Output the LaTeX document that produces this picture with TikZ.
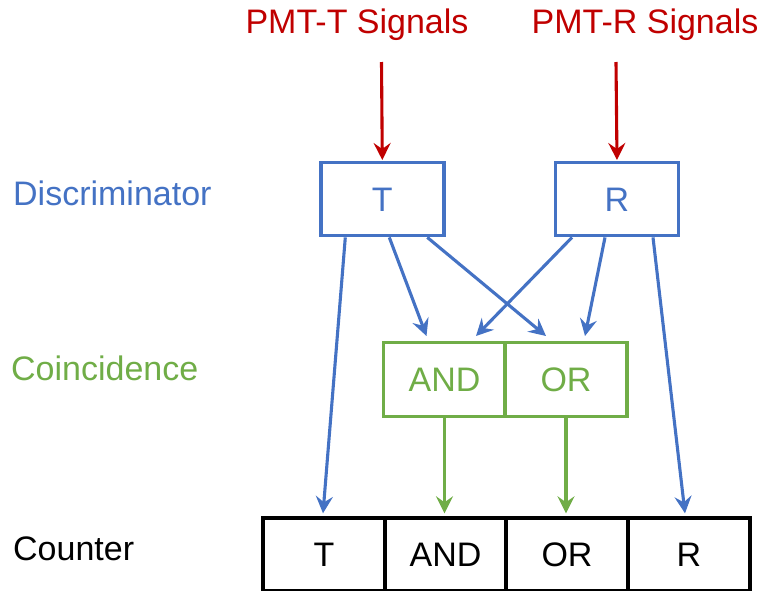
\documentclass[tikz,border=0pt]{standalone}
\usepackage{fontspec}
\setmainfont{Liberation Sans}
\usetikzlibrary{arrows.meta,calc}
\definecolor{sigred}{HTML}{C00000}
\definecolor{discblue}{HTML}{4472C4}
\definecolor{coingreen}{HTML}{70AD47}
\tikzset{
  txt/.style={font=\fontsize{34}{40}\selectfont, inner sep=0pt,
              text height=24.3pt, text depth=0pt},
  cell/.style={txt, draw, line width=3.4pt, minimum width=122pt,
               minimum height=73pt, anchor=center},
  discbox/.style={cell, draw=discblue, text=discblue, minimum width=123pt},
  coinbox/.style={cell, draw=coingreen, text=coingreen, minimum height=74pt},
  cntbox/.style={cell, draw=black, text=black},
  tip/.style={-{Stealth[length=17pt,width=17pt,inset=6pt]}, line width=3.1pt},
  redarrow/.style={tip, draw=sigred},
  bluearrow/.style={tip, draw=discblue},
  greenarrow/.style={tip, draw=coingreen},
}
\begin{document}
\begin{tikzpicture}[x=1pt,y=-1pt]
\useasboundingbox (0,0) rectangle (761,590);
\clip (0,0) rectangle (761,590);

% input signals
\node[txt, text=sigred] (sigT) at (357,21.5) {PMT-T Signals};
\node[txt, text=sigred] (sigR) at (645,21.5) {PMT-R Signals};
\coordinate (inT) at (381.5,62);
\coordinate (inR) at (616,62);

% row labels
\node[txt, text=discblue, anchor=west] (lDisc) at (13,193) {Discriminator};
\node[txt, text=coingreen, anchor=west] (lCoin) at (11,368.5) {Coincidence};
\node[txt, text=black, anchor=west] (lCnt) at (13,548.5) {Counter};

% discriminators
\node[discbox] (T) at (382.3,199.2) {T};
\node[discbox] (R) at (617,199.2) {R};

% coincidence unit
\node[coinbox] (AND) at (444.5,379.7) {AND};
\node[coinbox] (OR) at (566,379.7) {OR};

% counter channels
\node[cntbox] (cT) at (324,554.5) {T};
\node[cntbox] (cAND) at (445.5,554.5) {AND};
\node[cntbox] (cOR) at (567,554.5) {OR};
\node[cntbox] (cR) at (689,554.5) {R};

% signal inputs
\draw[redarrow] (inT) -- ($(T.north)+(0,-1)$);
\draw[redarrow] (inR) -- ($(R.north)+(0,-1)$);

% discriminator outputs
\draw[bluearrow] ($(T.south)+(-37,0)$) -- ($(cT.north)+(-1,-3)$);
\draw[bluearrow] ($(T.south)+(7,0)$) -- ($(AND.north)+(-18,-5)$);
\draw[bluearrow] ($(T.south)+(45,0)$) -- ($(OR.north)+(-20,-5)$);
\draw[bluearrow] ($(R.south)+(-45,0)$) -- ($(AND.north)+(31.5,-5)$);
\draw[bluearrow] ($(R.south)+(-12,0)$) -- ($(OR.north)+(19,-5)$);
\draw[bluearrow] ($(R.south)+(36,0)$) -- ($(cR.north)+(-4,-3)$);

% coincidence outputs
\draw[greenarrow] (AND.south) -- ($(AND.south |- cAND.north)+(0,-3)$);
\draw[greenarrow] (OR.south) -- ($(OR.south |- cOR.north)+(0,-3)$);
\end{tikzpicture}
\end{document}
